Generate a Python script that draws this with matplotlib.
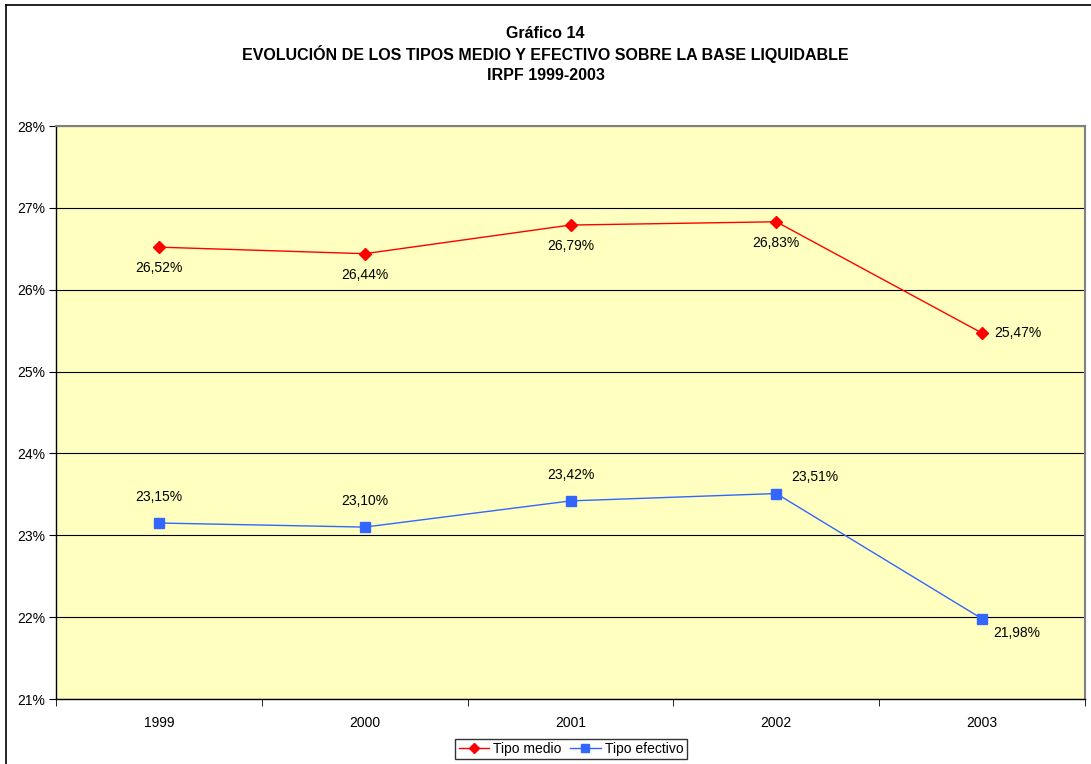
import matplotlib.pyplot as plt
from matplotlib.lines import Line2D

plt.rcParams['font.family'] = ['Liberation Sans', 'DejaVu Sans']

years = ['1999', '2000', '2001', '2002', '2003']
tipo_medio = [26.52, 26.44, 26.79, 26.83, 25.47]
tipo_efectivo = [23.15, 23.10, 23.42, 23.51, 21.98]

W, H = 1091, 764
fig = plt.figure(figsize=(W / 100, H / 100), dpi=100)

# outer frame of the chart (only top and left edges are visible)
fig.lines.append(Line2D([6 / W, 6 / W], [0, 1 - 5 / H], transform=fig.transFigure,
                        color='black', linewidth=1.2))
fig.lines.append(Line2D([6 / W, 1], [1 - 5 / H, 1 - 5 / H], transform=fig.transFigure,
                        color='black', linewidth=1.2))

left, right, top, bottom = 56, 1085, 126, 699
ax = fig.add_axes([left / W, 1 - bottom / H, (right - left) / W, (bottom - top) / H])
ax.set_facecolor('#FFFFC0')

x = list(range(len(years)))
ax.plot(x, tipo_medio, color='#FF0000', linewidth=1, marker='D', markersize=6,
        label='Tipo medio')
ax.plot(x, tipo_efectivo, color='#3366FF', linewidth=1, marker='s', markersize=7,
        label='Tipo efectivo')

def fmt(v):
    return f'{v:.2f}'.replace('.', ',') + '%'

fs = 10
for i, v in enumerate(tipo_medio):
    if i == 4:
        ax.annotate(fmt(v), (i, v), xytext=(9, 0), textcoords='offset points',
                    ha='left', va='center', fontsize=fs)
    else:
        ax.annotate(fmt(v), (i, v), xytext=(0, -15), textcoords='offset points',
                    ha='center', va='center', fontsize=fs)

for i, v in enumerate(tipo_efectivo):
    if i == 3:
        ax.annotate(fmt(v), (i, v), xytext=(28, 12), textcoords='offset points',
                    ha='center', va='center', fontsize=fs)
    elif i == 4:
        ax.annotate(fmt(v), (i, v), xytext=(25, -10), textcoords='offset points',
                    ha='center', va='center', fontsize=fs)
    else:
        ax.annotate(fmt(v), (i, v), xytext=(0, 19), textcoords='offset points',
                    ha='center', va='center', fontsize=fs)

ax.set_xlim(-0.5, len(years) - 0.5)
ax.set_ylim(21, 28)
ax.set_yticks(range(21, 29))
ax.set_yticklabels([f'{t}%' for t in range(21, 29)], fontsize=fs)
ax.set_xticks(x)
ax.set_xticklabels(years, fontsize=fs)
ax.tick_params(axis='x', which='major', length=0, pad=12)
ax.set_xticks([i - 0.5 for i in range(len(years) + 1)], minor=True)
ax.tick_params(axis='x', which='minor', length=5, direction='out', color='black')
ax.tick_params(axis='y', length=5, direction='out', pad=3)
ax.yaxis.grid(True, color='black', linewidth=0.8)
ax.set_axisbelow(True)

for s in ['top', 'right']:
    ax.spines[s].set_color('#808080')
    ax.spines[s].set_linewidth(1.5)
for s in ['left', 'bottom']:
    ax.spines[s].set_color('black')
    ax.spines[s].set_linewidth(1)

title_fs = 11.5
fig.text(0.5, 1 - 33 / H, 'Gráfico 14', ha='center', va='center',
         fontsize=title_fs, fontweight='bold')
fig.text(0.5, 1 - 54 / H, 'EVOLUCIÓN DE LOS TIPOS MEDIO Y EFECTIVO SOBRE LA BASE LIQUIDABLE',
         ha='center', va='center', fontsize=title_fs, fontweight='bold')
fig.text(0.5, 1 - 75 / H, 'IRPF 1999-2003', ha='center', va='center',
         fontsize=title_fs, fontweight='bold')

leg = fig.legend(loc='center', bbox_to_anchor=(571 / W, 1 - 749 / H), ncol=2,
                 fontsize=fs, frameon=True, fancybox=False, edgecolor='black',
                 handlelength=2.2, handletextpad=0.3, columnspacing=0.6,
                 borderpad=0.25, markerscale=0.8)
leg.get_frame().set_linewidth(1)

fig.savefig('out.png', dpi=100)
